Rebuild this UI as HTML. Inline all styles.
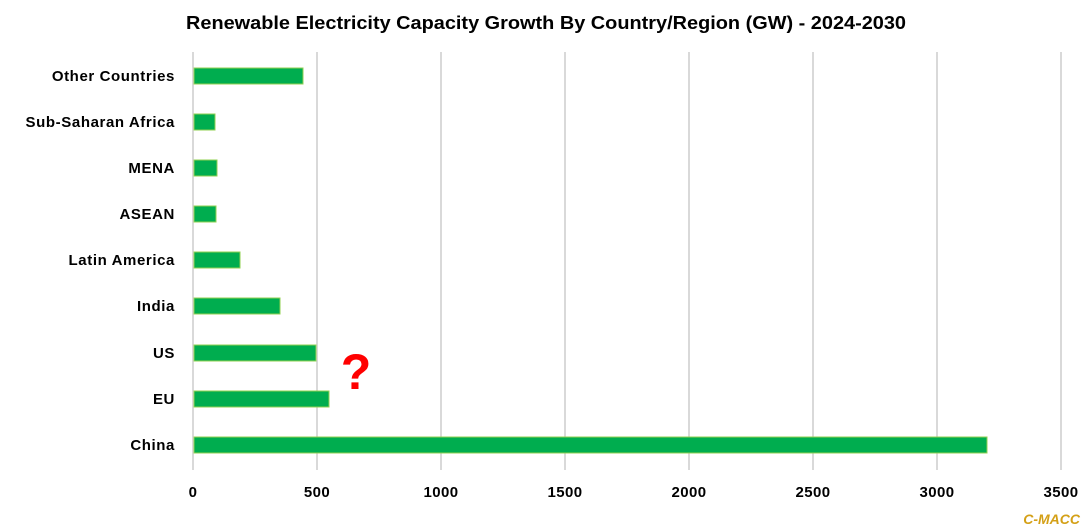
<!DOCTYPE html><html><head><style>body{margin:0;background:#fff}svg{display:block}</style></head><body>
<svg width="1092" height="532" xmlns="http://www.w3.org/2000/svg" font-family="Liberation Sans, Arial, sans-serif">
<text x="546" y="29" text-anchor="middle" font-size="18.5" font-weight="bold" fill="#000" textLength="720" lengthAdjust="spacingAndGlyphs">Renewable Electricity Capacity Growth By Country/Region (GW) - 2024-2030</text>
<g stroke="#d9d9d9" stroke-width="2">
<line x1="193" y1="52" x2="193" y2="470"/><line x1="317" y1="52" x2="317" y2="470"/><line x1="441" y1="52" x2="441" y2="470"/><line x1="565" y1="52" x2="565" y2="470"/><line x1="689" y1="52" x2="689" y2="470"/><line x1="813" y1="52" x2="813" y2="470"/><line x1="937" y1="52" x2="937" y2="470"/><line x1="1061" y1="52" x2="1061" y2="470"/>
</g>
<g fill="#00ad4f" stroke="#92d050" stroke-width="1">
<rect x="194" y="68" width="109" height="16"/>
<rect x="194" y="114" width="21" height="16"/>
<rect x="194" y="160" width="23" height="16"/>
<rect x="194" y="206" width="22" height="16"/>
<rect x="194" y="252" width="46" height="16"/>
<rect x="194" y="298" width="86" height="16"/>
<rect x="194" y="345" width="122" height="16"/>
<rect x="194" y="391" width="135" height="16"/>
<rect x="194" y="437" width="793" height="16"/>
</g>
<g font-size="15" font-weight="bold" text-anchor="end" fill="#000" letter-spacing="0.6">
<text x="175" y="81">Other Countries</text>
<text x="175" y="127">Sub-Saharan Africa</text>
<text x="175" y="173">MENA</text>
<text x="175" y="219">ASEAN</text>
<text x="175" y="265">Latin America</text>
<text x="175" y="311">India</text>
<text x="175" y="358">US</text>
<text x="175" y="404">EU</text>
<text x="175" y="450">China</text>
</g>
<g font-size="15" font-weight="bold" text-anchor="middle" fill="#000" letter-spacing="0.4">
<text x="193" y="497">0</text><text x="317" y="497">500</text><text x="441" y="497">1000</text><text x="565" y="497">1500</text><text x="689" y="497">2000</text><text x="813" y="497">2500</text><text x="937" y="497">3000</text><text x="1061" y="497">3500</text>
</g>
<text x="356" y="389" text-anchor="middle" font-size="50" font-weight="bold" fill="#ff0000">?</text>
<text x="1080" y="524" text-anchor="end" font-size="14" font-weight="bold" font-style="italic" fill="#d4a017">C-MACC</text>
</svg>
</body></html>
